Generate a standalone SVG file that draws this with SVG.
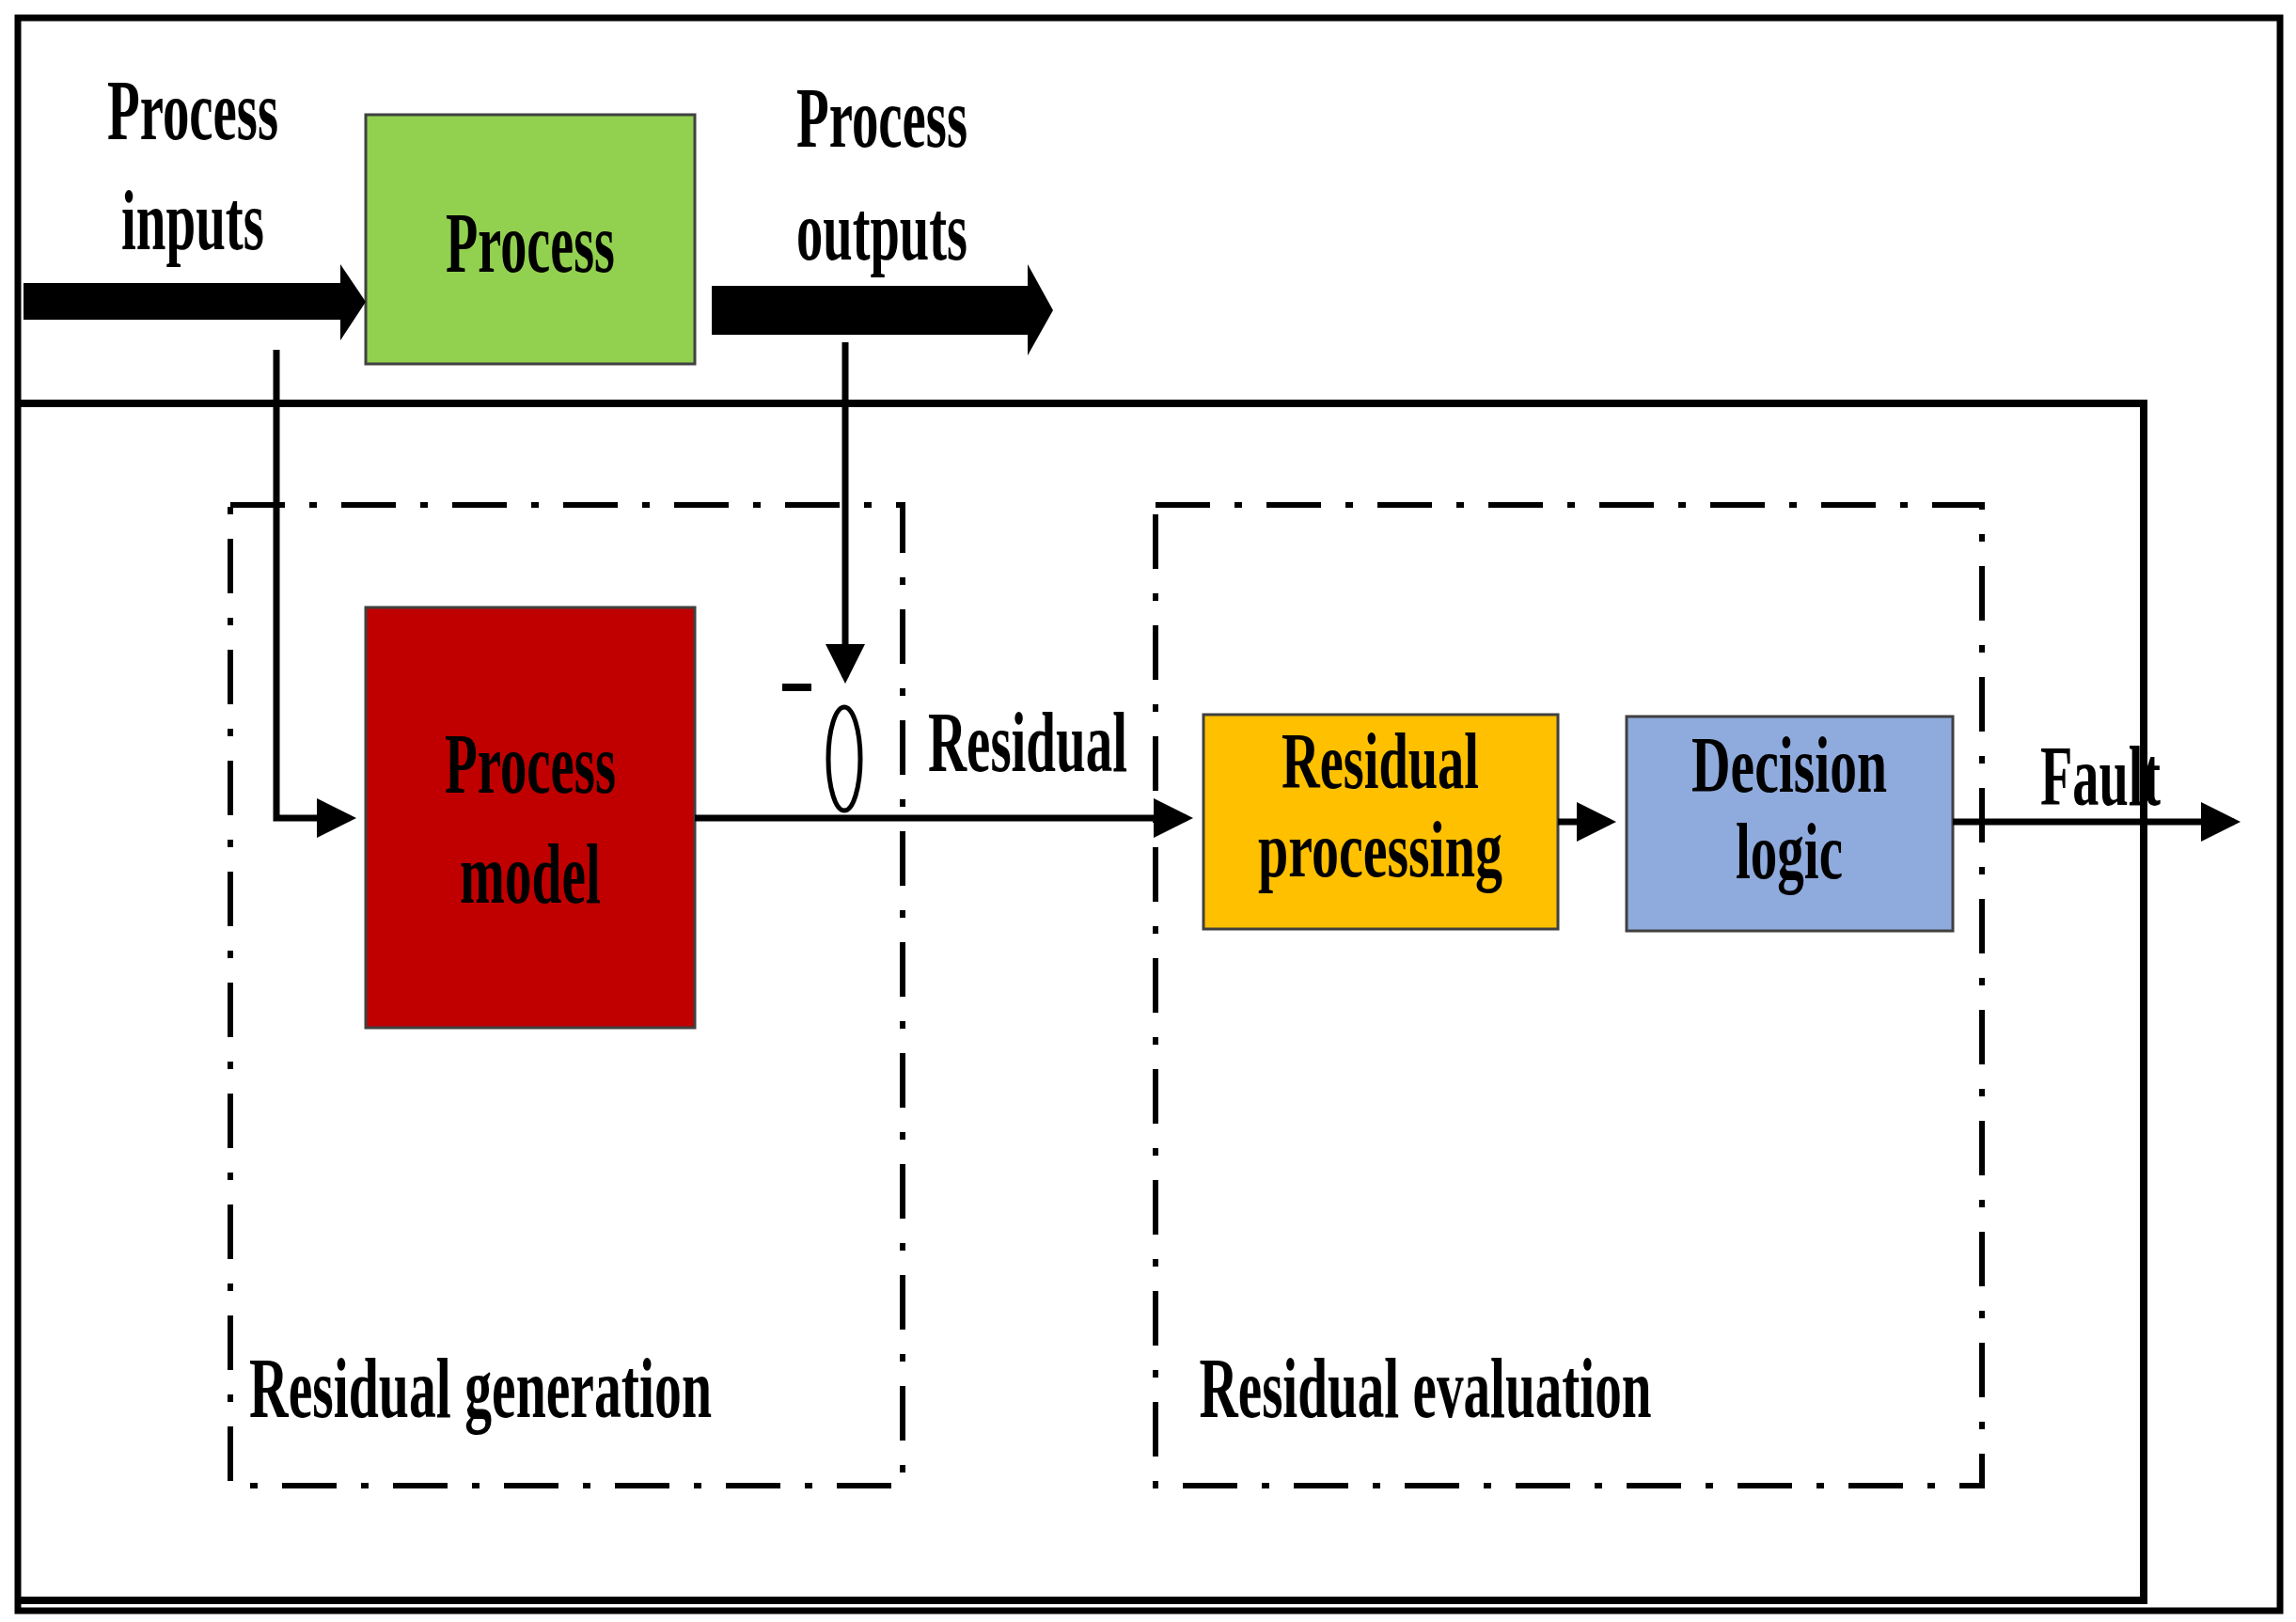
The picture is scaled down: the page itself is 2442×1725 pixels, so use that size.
<svg xmlns="http://www.w3.org/2000/svg" width="2442" height="1725" viewBox="0 0 2442 1725">
<style>
.t{font-family:"Liberation Serif","Times New Roman",serif;font-size:90px;font-weight:bold;fill:#000;text-anchor:middle}
.s{font-size:84px}
.b{stroke:#404040;stroke-width:3}
.dd{fill:none;stroke:#000;stroke-width:6;stroke-dasharray:58 26 8 26}
.ln{stroke:#000;stroke-width:7;fill:none}
</style>
<defs>
<marker id="ah" markerWidth="6" markerHeight="6" refX="5" refY="3" orient="auto" markerUnits="strokeWidth"><path d="M0,0L6,3L0,6z" fill="#000"/></marker>
</defs>
<rect width="2442" height="1725" fill="#fff"/>
<rect x="19" y="19" width="2406" height="1694" fill="none" stroke="#000" stroke-width="7"/>
<path d="M22,429H2280V1702H22" fill="none" stroke="#000" stroke-width="8"/>
<g id="gen"><rect class="dd" x="245" y="537" width="715" height="1043"/>
<text class="t" x="511" y="1507" textLength="492" lengthAdjust="spacingAndGlyphs">Residual generation</text></g>
<g id="eval"><rect class="dd" x="1229" y="537" width="879" height="1043"/>
<text class="t" x="1516" y="1507" textLength="481" lengthAdjust="spacingAndGlyphs">Residual evaluation</text></g>
<g id="process"><rect class="b" x="389" y="122" width="350" height="265" fill="#92d050"/>
<text class="t" x="564" y="289" textLength="180" lengthAdjust="spacingAndGlyphs">Process</text></g>
<g id="model"><rect class="b" x="389" y="646" width="350" height="447" fill="#c00000"/>
<text class="t" x="564" y="843" textLength="182" lengthAdjust="spacingAndGlyphs">Process</text>
<text class="t" x="564" y="960" textLength="150" lengthAdjust="spacingAndGlyphs">model</text></g>
<g id="rproc"><rect class="b" x="1280" y="760" width="377" height="228" fill="#ffc000"/>
<text class="t s" x="1468" y="838" textLength="210" lengthAdjust="spacingAndGlyphs">Residual</text>
<text class="t s" x="1468" y="932" textLength="260" lengthAdjust="spacingAndGlyphs">processing</text></g>
<g id="decision"><rect class="b" x="1730" y="762" width="347" height="228" fill="#8faadc"/>
<text class="t s" x="1903" y="842" textLength="208" lengthAdjust="spacingAndGlyphs">Decision</text>
<text class="t s" x="1903" y="934" textLength="114" lengthAdjust="spacingAndGlyphs">logic</text></g>
<g id="sum"><ellipse cx="898" cy="807" rx="17" ry="55" fill="#fff" stroke="#000" stroke-width="5"/>
<path d="M832,731H863" stroke="#000" stroke-width="8"/></g>
<g id="connectors">
<path d="M25,301H362V281L389,321L362,362V340H25z" fill="#000"/>
<path d="M757,304H1093V281L1120,330L1093,378V356H757z" fill="#000"/>
<path class="ln" d="M294,372V870H372" marker-end="url(#ah)"/>
<path class="ln" d="M899,364V720" marker-end="url(#ah)"/>
<path class="ln" d="M739,870H1262" marker-end="url(#ah)"/>
<path class="ln" d="M1657,874H1712" marker-end="url(#ah)"/>
<path class="ln" d="M2077,874H2376" marker-end="url(#ah)"/>
</g>
<g id="labels">
<text class="t" x="205" y="148" textLength="182" lengthAdjust="spacingAndGlyphs">Process</text>
<text class="t" x="205" y="265" textLength="152" lengthAdjust="spacingAndGlyphs">inputs</text>
<text class="t" x="938" y="156" textLength="182" lengthAdjust="spacingAndGlyphs">Process</text>
<text class="t" x="938" y="276" textLength="182" lengthAdjust="spacingAndGlyphs">outputs</text>
<text class="t" x="1093" y="820" textLength="212" lengthAdjust="spacingAndGlyphs">Residual</text>
<text class="t" x="2234" y="856" textLength="128" lengthAdjust="spacingAndGlyphs">Fault</text>
</g>
</svg>
